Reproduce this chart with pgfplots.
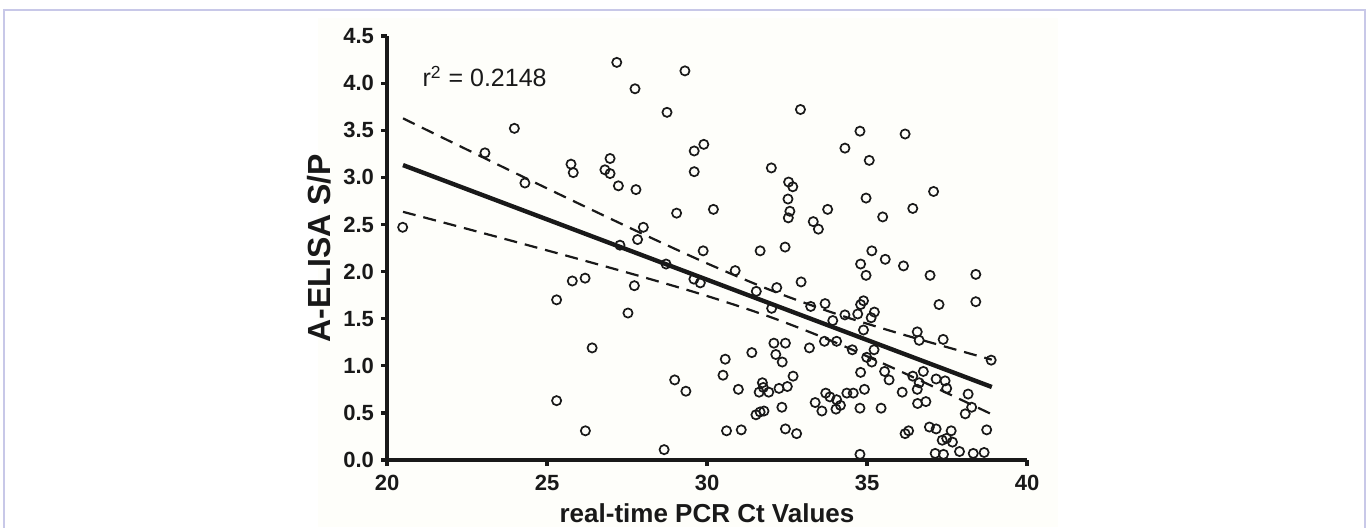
\documentclass[border=0pt]{standalone}
\usepackage{fontspec}
\setmainfont{Liberation Sans}
\usepackage{pgfplots}
\pgfplotsset{compat=1.18}
\usepackage{pgfplotstable}

\definecolor{framecol}{RGB}{200,200,232}
\definecolor{panelbg}{RGB}{254,254,250}
\definecolor{ink}{RGB}{25,25,25}

% Ct value vs A-ELISA S/P
\pgfplotstableread{
x y
20.49 2.47
23.06 3.26
23.98 3.52
24.31 2.94
25.75 3.14
25.82 3.05
27.18 4.22
29.31 4.13
27.75 3.94
28.75 3.69
32.92 3.72
29.90 3.35
29.60 3.28
29.60 3.06
26.97 3.20
26.81 3.08
26.97 3.04
27.23 2.91
27.78 2.87
32.01 3.10
32.55 2.95
32.68 2.90
32.53 2.77
32.59 2.64
32.54 2.57
29.05 2.62
30.20 2.66
28.01 2.47
27.83 2.34
27.28 2.28
29.88 2.22
31.66 2.22
32.44 2.26
33.32 2.53
33.48 2.45
28.72 2.08
30.88 2.01
34.78 3.49
36.19 3.46
34.31 3.31
35.07 3.18
34.97 2.78
35.49 2.58
36.43 2.67
37.08 2.85
33.77 2.66
35.15 2.22
34.80 2.08
35.57 2.13
36.14 2.06
26.19 1.93
25.79 1.90
25.30 1.70
26.41 1.19
25.30 0.63
26.20 0.31
27.73 1.85
27.53 1.56
29.59 1.92
29.79 1.88
31.54 1.79
32.18 1.83
32.94 1.89
32.02 1.61
33.24 1.63
32.09 1.24
32.45 1.24
31.40 1.14
32.15 1.12
32.35 1.04
30.57 1.07
30.50 0.90
32.69 0.89
33.20 1.19
28.99 0.85
29.34 0.73
30.98 0.75
31.73 0.82
31.76 0.77
31.63 0.72
31.93 0.72
32.25 0.76
32.51 0.78
32.34 0.56
31.53 0.48
31.66 0.51
31.78 0.52
30.61 0.31
31.07 0.32
32.45 0.33
32.80 0.28
28.66 0.11
33.38 0.61
34.97 1.96
36.97 1.96
38.40 1.97
38.40 1.68
37.25 1.65
33.69 1.66
34.89 1.69
34.80 1.65
34.71 1.55
34.31 1.54
35.23 1.57
35.13 1.51
33.93 1.48
34.89 1.38
36.57 1.36
36.63 1.27
37.38 1.28
38.88 1.06
33.67 1.26
34.05 1.26
34.54 1.17
35.22 1.17
34.99 1.09
35.15 1.04
34.80 0.93
35.55 0.94
35.69 0.85
36.43 0.89
36.76 0.94
36.63 0.82
37.16 0.86
37.44 0.84
37.49 0.76
36.57 0.75
36.10 0.72
38.16 0.70
38.27 0.56
38.07 0.49
36.58 0.60
36.84 0.62
34.92 0.75
34.37 0.71
34.57 0.71
33.71 0.71
33.84 0.67
34.05 0.64
34.17 0.58
34.03 0.54
33.59 0.52
34.78 0.55
35.44 0.55
36.19 0.28
36.30 0.31
36.95 0.35
37.16 0.33
37.63 0.31
37.35 0.21
37.49 0.23
37.67 0.19
38.74 0.32
34.78 0.06
37.13 0.07
37.39 0.06
37.89 0.09
38.32 0.07
38.66 0.08
}\ctdata

\begin{document}
\begin{tikzpicture}[x=0.5pt,y=0.5pt]
\useasboundingbox (0,0) rectangle (1368,527);
\fill[white] (0,0) rectangle (1368,527);
\fill[panelbg] (318,0) rectangle (1058,509);
\draw[framecol, line width=0.7pt] (4,-5) -- (4,517) -- (1365,517) -- (1365,-5);
\begin{axis}[
    at={(193.5pt,33.5pt)}, anchor=south west,
    scale only axis, width=320pt, height=212pt,
    xmin=20, xmax=40, ymin=0, ymax=4.5,
    axis x line*=bottom, axis y line*=left,
    axis line style={line width=2pt, ink},
    xtick={20,25,30,35,40},
    ytick={0,0.5,1,1.5,2,2.5,3,3.5,4,4.5},
    tick align=outside, major tick length=3pt,
    tick style={line width=1.6pt, ink},
    ticklabel style={font=\bfseries\fontsize{11}{13}\selectfont, text=ink},
    xticklabel style={yshift=-1pt},
    /pgf/number format/assume math mode=true,
    yticklabel style={/pgf/number format/.cd, fixed, fixed zerofill, precision=1},
    xlabel={real-time PCR Ct Values},
    ylabel={A-ELISA S/P},
    xlabel style={font=\bfseries\fontsize{13}{15}\selectfont, text=ink,
        at={(axis description cs:0.5,-0.125)}, anchor=center},
    ylabel style={font=\bfseries\fontsize{16}{18}\selectfont, text=ink,
        at={(axis description cs:-0.106,0.5)}, anchor=center},
    clip=false,
]

\addplot[only marks, mark=o, mark size=2.3pt, mark options={line width=0.85pt, ink}]
    table[x=x, y=y] {\ctdata};

% fitted line
\addplot[ink, line width=2.2pt] coordinates {(20.5,3.13) (38.9,0.775)};

% 95% bands
\addplot[ink, line width=1.1pt, dash pattern=on 6.5pt off 4pt, smooth] coordinates {
    (20.5,3.626) (22,3.377) (24,3.047) (26,2.720) (28,2.398) (30,2.087)
    (32,1.801) (34,1.555) (36,1.344) (38,1.150) (38.9,1.065)
};
\addplot[ink, line width=1.1pt, dash pattern=on 6.5pt off 4pt, smooth] coordinates {
    (20.5,2.634) (22,2.499) (24,2.317) (26,2.132) (28,1.942) (30,1.741)
    (32,1.515) (34,1.249) (36,0.948) (38,0.630) (38.9,0.485)
};

\node[anchor=west, inner sep=0pt, font=\fontsize{12.5}{14}\selectfont, text=ink]
    at (axis cs:21.1,4.07) {r\textsuperscript{2} = 0.2148};
\end{axis}
\end{tikzpicture}
\end{document}
